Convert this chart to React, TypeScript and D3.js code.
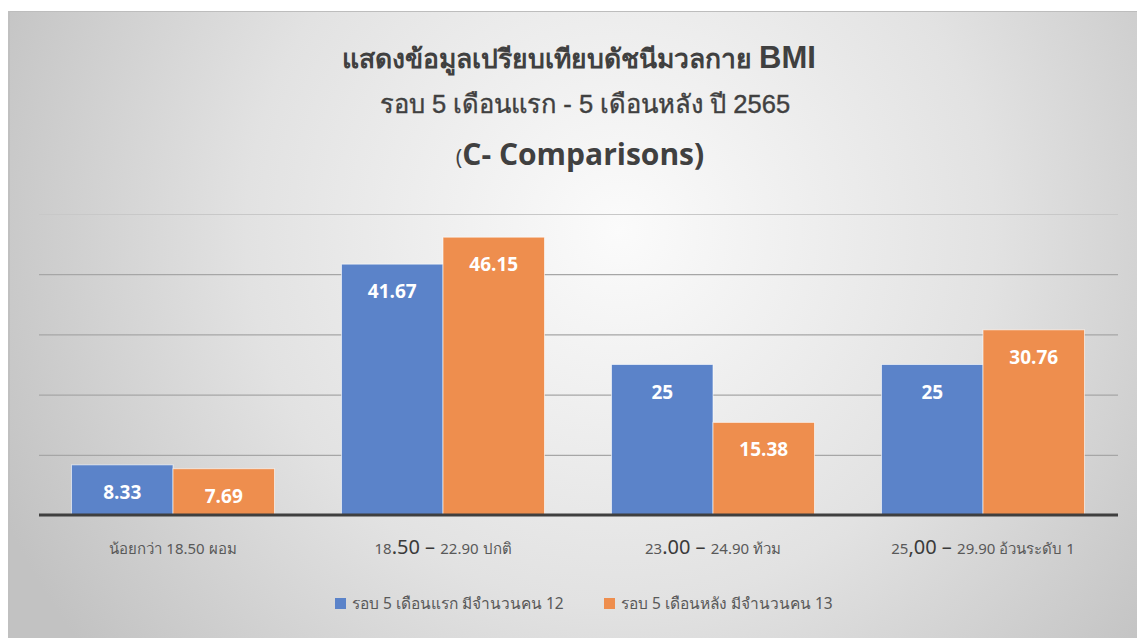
import React, { useEffect, useRef } from 'react';
import * as d3 from 'd3';

const categories = ['cat0', 'cat1', 'cat2', 'cat3'];
// label pieces: [text, bigger?]
const categoryLabels: [string, boolean][][] = [
  [['น้อยกว่า 18.50 ผอม', false]],
  [['18', false], ['.50', true], [' – ', true], ['22.90 ปกติ', false]],
  [['23', false], ['.00', true], [' – ', true], ['24.90 ท้วม', false]],
  [['25', false], [',00', true], [' – ', true], ['29.90  อ้วนระดับ 1', false]],
];
const seriesNames = ['รอบ 5 เดือนแรก มีจำนวนคน 12', 'รอบ 5 เดือนหลัง มีจำนวนคน 13'];
const firstRound = [8.33, 41.67, 25, 25];
const secondRound = [7.69, 46.15, 15.38, 30.76];
const valueLabels = [
  ['8.33', '41.67', '25', '25'],
  ['7.69', '46.15', '15.38', '30.76'],
];
const gridTicks = [10, 20, 30, 40, 50];
const colors = ['#5b83c9', '#ee8e4e'];

const W = 1137;
const H = 638;

export default function App() {
  const ref = useRef<SVGSVGElement | null>(null);

  useEffect(() => {
    if (!ref.current) return;
    const svg = d3.select(ref.current);
    svg.selectAll('*').remove();

    const defs = svg.append('defs');
    const grad = defs
      .append('radialGradient')
      .attr('id', 'bg')
      .attr('gradientUnits', 'userSpaceOnUse')
      .attr('cx', 620)
      .attr('cy', 230)
      .attr('r', 680);
    grad.append('stop').attr('offset', 0).attr('stop-color', '#fbfbfb');
    grad.append('stop').attr('offset', 0.55).attr('stop-color', '#e2e2e2');
    grad.append('stop').attr('offset', 1).attr('stop-color', '#c2c2c2');

    svg.append('rect').attr('x', 8).attr('y', 11).attr('width', W - 8).attr('height', H - 11).attr('fill', 'url(#bg)');
    svg.append('line').attr('x1', 8).attr('x2', W).attr('y1', 11.5).attr('y2', 11.5).attr('stroke', '#bdbdbd');
    svg.append('line').attr('x1', 9).attr('x2', 9).attr('y1', 11).attr('y2', H).attr('stroke', '#c0c0c0').attr('stroke-width', 2);

    // Title
    const title = svg.append('g').attr('fill', '#404040').attr('text-anchor', 'middle');
    const t1 = title.append('text').attr('x', 579).attr('y', 68).attr('font-size', 26.5).attr('font-weight', 'bold')
      .attr('font-family', 'Noto Sans, Liberation Sans, sans-serif');
    t1.append('tspan').text('แสดงข้อมูลเปรียบเทียบดัชนีมวลกาย ');
    t1.append('tspan').attr('font-family', 'Liberation Sans, Arial, sans-serif').attr('font-size', 31).text('BMI');
    title.append('text').attr('x', 585).attr('y', 113).attr('font-size', 25.5).attr('font-weight', 'normal')
      .attr('font-family', 'Liberation Sans, Noto Sans, sans-serif')
      .attr('stroke', '#404040').attr('stroke-width', 0.4)
      .text('รอบ 5 เดือนแรก - 5 เดือนหลัง ปี 2565');
    const t3 = title.append('text').attr('x', 580).attr('y', 165).attr('font-size', 30).attr('font-weight', 'bold')
      .attr('font-family', 'Open Sans, sans-serif');
    t3.append('tspan').attr('font-size', 22).attr('font-weight', 'normal').text('(');
    t3.append('tspan').text('C- Comparisons)');

    const x = d3.scaleBand<string>().domain(categories).range([38, 1118]).padding(0);
    const xInner = d3.scaleBand<number>().domain([0, 1]).range([0, x.bandwidth()]).paddingInner(0).paddingOuter(0.33);
    const y = d3.scaleLinear().domain([0, 50]).range([515, 214]);

    // Grid
    const grid = d3.axisLeft(y).tickValues(gridTicks).tickSize(-(1118 - 39)).tickFormat(() => '');
    const gg = svg.append('g').attr('transform', 'translate(39,0)').call(grid);
    gg.select('.domain').remove();
    gg.selectAll('.tick line')
      .attr('stroke', (d) => ((d as number) === 50 ? '#c8c8c8' : '#a6a6a6'))
      .attr('stroke-width', 1.2);

    const series = [firstRound, secondRound];
    series.forEach((vals, si) => {
      const g = svg.append('g');
      g.selectAll('rect')
        .data(vals)
        .enter()
        .append('rect')
        .attr('x', (_, i) => (x(categories[i]) ?? 0) + (xInner(si) ?? 0))
        .attr('y', (d) => y(d))
        .attr('width', xInner.bandwidth())
        .attr('height', (d) => y(0) - y(d))
        .attr('fill', colors[si])
        .attr('stroke', '#ffffff')
        .attr('stroke-opacity', 0.6)
        .attr('stroke-width', 1);
      g.selectAll('text')
        .data(vals)
        .enter()
        .append('text')
        .attr('x', (_, i) => (x(categories[i]) ?? 0) + (xInner(si) ?? 0) + xInner.bandwidth() / 2)
        .attr('y', (d) => y(d) + 34)
        .attr('text-anchor', 'middle')
        .attr('fill', '#ffffff')
        .attr('font-size', 19)
        .attr('font-weight', 'bold')
        .attr('font-family', 'Open Sans, sans-serif')
        .text((_, i) => valueLabels[si][i]);
    });

    // baseline
    svg.append('line').attr('x1', 39).attr('x2', 1118).attr('y1', y(0)).attr('y2', y(0))
      .attr('stroke', '#3f3f3f').attr('stroke-width', 3);

    // x labels
    const xl = svg.append('g').attr('fill', '#595959').attr('font-family', 'Noto Sans, Liberation Sans, sans-serif')
      .attr('text-anchor', 'middle');
    categories.forEach((c, i) => {
      const t = xl.append('text').attr('x', (x(c) ?? 0) + x.bandwidth() / 2).attr('y', 554).attr('font-size', 15);
      categoryLabels[i].forEach(([s, big]) => {
        const sp = t.append('tspan').text(s);
        if (big) sp.attr('font-size', 20).attr('fill', '#3a3a3a');
      });
    });

    // legend
    const lg = svg.append('g').attr('font-family', 'Noto Sans, Liberation Sans, sans-serif').attr('font-size', 15.5).attr('fill', '#595959');
    const legendX = [335, 604];
    seriesNames.forEach((n, i) => {
      lg.append('rect').attr('x', legendX[i]).attr('y', 598).attr('width', 11).attr('height', 11).attr('fill', colors[i]);
      lg.append('text').attr('x', legendX[i] + 17).attr('y', 609).text(n);
    });
  }, []);

  return (
    <svg
      ref={ref}
      width={W}
      height={H}
      style={{ position: 'absolute', left: 0, top: 0, display: 'block' }}
    />
  );
}
